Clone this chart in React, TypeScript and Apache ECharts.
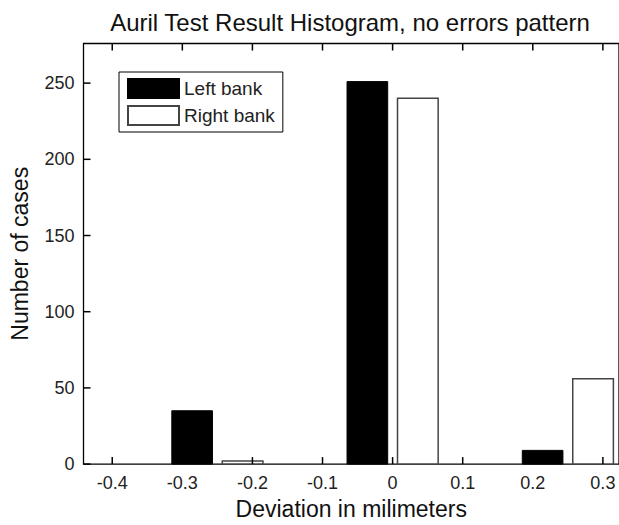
import React, { useEffect, useRef } from "react";
import * as echarts from "echarts";

const binCenters = [-0.25, 0, 0.25];
const leftBank = [35, 251, 9];
const rightBank = [2, 240, 56];
const xTicks = [-0.4, -0.3, -0.2, -0.1, 0, 0.1, 0.2, 0.3];
const xTickLabels = ["-0.4", "-0.3", "-0.2", "-0.1", "0", "0.1", "0.2", "0.3"];
const yTicks = [0, 50, 100, 150, 200, 250];

const FONT = "Liberation Sans, Arial, sans-serif";
const OFFSET = 0.036;
const HALF_W = 0.029;
const X_MIN = -0.441;
const X_MAX = 0.323;
const Y_MIN = 0;
const Y_MAX = 276;
const TICK_LEN = 7;

function makeRender(offset: number) {
  return (params: any, api: any) => {
    const x = api.value(0) + offset;
    const y = api.value(1);
    const p0 = api.coord([x - HALF_W, y]);
    const p1 = api.coord([x + HALF_W, 0]);
    return {
      type: "rect",
      shape: { x: p0[0], y: p0[1], width: p1[0] - p0[0], height: p1[1] - p0[1] },
      style: api.style(),
    };
  };
}

const tickLineStyle = { stroke: "#000", lineWidth: 1.5, fill: "none" };

function renderXTick(params: any, api: any) {
  const v = api.value(0);
  const b = api.coord([v, Y_MIN]);
  const t = api.coord([v, Y_MAX]);
  return {
    type: "group",
    children: [
      { type: "line", shape: { x1: b[0], y1: b[1], x2: b[0], y2: b[1] - TICK_LEN }, style: tickLineStyle },
      { type: "line", shape: { x1: t[0], y1: t[1], x2: t[0], y2: t[1] + TICK_LEN }, style: tickLineStyle },
    ],
  };
}

function renderYTick(params: any, api: any) {
  const p = api.coord([api.value(0), api.value(1)]);
  return {
    type: "line",
    shape: { x1: p[0], y1: p[1], x2: p[0] + TICK_LEN, y2: p[1] },
    style: tickLineStyle,
  };
}

export default function App() {
  const ref = useRef<HTMLDivElement>(null);
  useEffect(() => {
    if (!ref.current) return;
    const chart = echarts.init(ref.current, undefined, { renderer: "svg" });
    const xLabelFor = (v: number) => {
      const i = xTicks.findIndex((t) => Math.abs(t - v) < 1e-9);
      return i >= 0 ? xTickLabels[i] : "";
    };
    const yLabelFor = (v: number) =>
      yTicks.some((t) => Math.abs(t - v) < 1e-9) ? String(Math.round(v)) : "";
    chart.setOption({
      animation: false,
      backgroundColor: "#fff",
      title: {
        text: "Auril Test Result Histogram, no errors pattern",
        left: 345,
        top: 5,
        textAlign: "center",
        textStyle: { fontFamily: FONT, fontSize: 24, fontWeight: "normal", color: "#111" },
      },
      legend: {
        orient: "vertical",
        left: 119,
        top: 72,
        padding: [6, 8, 6, 8],
        itemWidth: 51,
        itemHeight: 19,
        itemGap: 6,
        borderColor: "#000",
        borderWidth: 1,
        backgroundColor: "#fff",
        icon: "rect",
        textStyle: { fontFamily: FONT, fontSize: 19, color: "#222" },
        data: ["Left bank", "Right bank"],
      },
      grid: {
        left: 83.5,
        top: 43.5,
        bottom: 56,
        right: -2,
        show: true,
        borderColor: "#000",
        borderWidth: 1.3,
        backgroundColor: "transparent",
      },
      xAxis: {
        type: "value",
        min: X_MIN,
        max: X_MAX,
        splitNumber: 8,
        name: "Deviation in milimeters",
        nameLocation: "middle",
        nameGap: 26,
        nameTextStyle: { fontFamily: FONT, fontSize: 23, color: "#111" },
        axisLine: { show: false, onZero: false },
        axisTick: { show: false },
        splitLine: { show: false },
        axisLabel: {
          show: true,
          margin: 10,
          fontFamily: FONT,
          fontSize: 18,
          color: "#222",
          showMinLabel: false,
          showMaxLabel: false,
          formatter: (v: number) => xLabelFor(v),
        },
      },
      yAxis: {
        type: "value",
        min: Y_MIN,
        max: Y_MAX,
        interval: 50,
        name: "Number of cases",
        nameLocation: "middle",
        nameGap: 52,
        nameTextStyle: { fontFamily: FONT, fontSize: 23, color: "#111" },
        axisLine: { show: false, onZero: false },
        axisTick: { show: false },
        splitLine: { show: false },
        axisLabel: {
          show: true,
          margin: 9,
          fontFamily: FONT,
          fontSize: 18,
          color: "#222",
          showMaxLabel: false,
          formatter: (v: number) => yLabelFor(v),
        },
      },
      series: [
        {
          name: "Left bank",
          type: "custom",
          renderItem: makeRender(-OFFSET),
          itemStyle: { color: "#000", borderColor: "#000", borderWidth: 1 },
          encode: { x: 0, y: 1 },
          data: binCenters.map((b, i) => [b, leftBank[i]]),
        },
        {
          name: "Right bank",
          type: "custom",
          renderItem: makeRender(OFFSET),
          itemStyle: { color: "#fff", borderColor: "#444", borderWidth: 1.5 },
          encode: { x: 0, y: 1 },
          data: binCenters.map((b, i) => [b, rightBank[i]]),
        },
        {
          name: "xticks",
          type: "custom",
          silent: true,
          z: 5,
          renderItem: renderXTick,
          encode: { x: 0, y: 1 },
          data: xTicks.map((v) => [v, Y_MIN]),
        },
        {
          name: "yticks",
          type: "custom",
          silent: true,
          z: 5,
          renderItem: renderYTick,
          encode: { x: 0, y: 1 },
          data: yTicks.map((v) => [X_MIN, v]),
        },
      ],
    });
    return () => chart.dispose();
  }, []);
  return (
    <div
      ref={ref}
      style={{ position: "absolute", left: 0, top: 0, width: 619, height: 525 }}
    />
  );
}
